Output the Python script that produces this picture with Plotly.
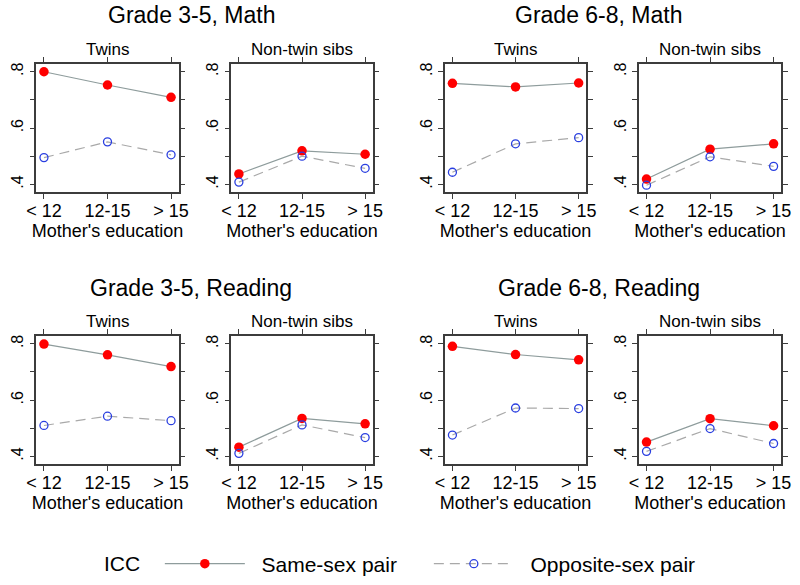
import plotly.graph_objects as go

# ---------------- data ----------------
edu = ["< 12", "12-15", "> 15"]
series_names = ["  Same-sex pair", "  Opposite-sex pair"]
group_titles = ["Grade 3-5, Math", "Grade 6-8, Math", "Grade 3-5, Reading", "Grade 6-8, Reading"]
panel_titles = ["Twins", "Non-twin sibs"]

math35_twins_same = [0.800, 0.753, 0.709]
math35_twins_opp = [0.495, 0.551, 0.505]
math35_sibs_same = [0.437, 0.519, 0.507]
math35_sibs_opp = [0.408, 0.500, 0.457]

math68_twins_same = [0.759, 0.746, 0.760]
math68_twins_opp = [0.443, 0.544, 0.566]
math68_sibs_same = [0.419, 0.525, 0.544]
math68_sibs_opp = [0.397, 0.498, 0.464]

read35_twins_same = [0.799, 0.761, 0.719]
read35_twins_opp = [0.510, 0.543, 0.527]
read35_sibs_same = [0.433, 0.535, 0.516]
read35_sibs_opp = [0.411, 0.512, 0.467]

read68_twins_same = [0.791, 0.762, 0.743]
read68_twins_opp = [0.476, 0.572, 0.570]
read68_sibs_same = [0.451, 0.534, 0.509]
read68_sibs_opp = [0.418, 0.499, 0.446]

y_tickvals = [0.4, 0.5, 0.6, 0.7, 0.8]
y_ticktext = [".4", "", ".6", "", ".8"]

# ---------------- layout geometry ----------------
W, H = 800, 585
FONT = "Arial, Liberation Sans, sans-serif"
panels = [
    (math35_twins_same, math35_twins_opp, 0, 0),
    (math35_sibs_same, math35_sibs_opp, 0, 1),
    (math68_twins_same, math68_twins_opp, 0, 2),
    (math68_sibs_same, math68_sibs_opp, 0, 3),
    (read35_twins_same, read35_twins_opp, 1, 0),
    (read35_sibs_same, read35_sibs_opp, 1, 1),
    (read68_twins_same, read68_twins_opp, 1, 2),
    (read68_sibs_same, read68_sibs_opp, 1, 3),
]
x_px = [(27, 173), (227, 372), (446, 591), (645, 791)]
y_px = [(63, 192), (336, 465)]

SAME_LINE = "#8e9c9c"
OPP_LINE = "#a9a9a9"
RED = "#ff0000"
BLUE = "#2a3fe0"
FRAME = "#3c3c3c"

fig = go.Figure()
layout = {}
annotations = []

for i, (same, opp, row, col) in enumerate(panels):
    k = i + 1
    xa = "x" if k == 1 else f"x{k}"
    ya = "y" if k == 1 else f"y{k}"
    fig.add_trace(go.Scatter(
        x=edu, y=same, xaxis=xa, yaxis=ya, mode="lines+markers",
        name=series_names[0], legendgroup="same", showlegend=(k == 1),
        line=dict(color=SAME_LINE, width=1.2),
        marker=dict(color=RED, size=9.5, line=dict(width=0)),
    ))
    fig.add_trace(go.Scatter(
        x=edu, y=opp, xaxis=xa, yaxis=ya, mode="lines+markers",
        name=series_names[1], legendgroup="opp", showlegend=(k == 1),
        line=dict(color=OPP_LINE, width=1.2, dash="10px,6px"),
        marker=dict(color=BLUE, size=8, symbol="circle-open",
                    line=dict(color=BLUE, width=1.3)),
    ))
    x0, x1 = x_px[col]
    yt, yb = y_px[row]
    xkey = "xaxis" if k == 1 else f"xaxis{k}"
    ykey = "yaxis" if k == 1 else f"yaxis{k}"
    layout[xkey] = dict(
        domain=[x0 / W, x1 / W], anchor=ya, type="category",
        range=[-0.12, 2.12], showgrid=False, zeroline=False,
        showline=True, mirror="all", linecolor=FRAME, linewidth=1.5,
        ticks="outside", ticklen=5, tickcolor=FRAME, tickwidth=1.2,
        ticklabelstandoff=-4,
        tickfont=dict(family=FONT, size=18, color="black"),
        title=dict(text="Mother's education", standoff=0,
                   font=dict(family=FONT, size=18, color="black")),
        fixedrange=True,
    )
    layout[ykey] = dict(
        domain=[1 - yb / H, 1 - yt / H], anchor=xa,
        range=[0.3717, 0.8283], showgrid=False, zeroline=False,
        showline=True, mirror="all", linecolor=FRAME, linewidth=1.5,
        ticks="outside", ticklen=5, tickcolor=FRAME, tickwidth=1.2,
        tickmode="array", tickvals=y_tickvals, ticktext=y_ticktext,
        tickangle=-90,
        tickfont=dict(family=FONT, size=16, color="black"),
        fixedrange=True,
    )
    annotations.append(dict(
        text=panel_titles[col % 2], xref="paper", yref="paper",
        x=(x0 + x1) / 2 / W, y=1 - (yt - 14) / H,
        xanchor="center", yanchor="middle", showarrow=False,
        font=dict(family=FONT, size=17, color="black"),
    ))

group_pos = [(186, 14), (604, 14), (186, 288), (604, 288)]
for t, (gx, gy) in zip(group_titles, group_pos):
    annotations.append(dict(
        text=t, xref="paper", yref="paper", x=gx / W, y=1 - gy / H,
        xanchor="center", yanchor="middle", showarrow=False,
        font=dict(family=FONT, size=23, color="black"),
    ))

fig.update_layout(
    width=W, height=H,
    margin=dict(l=0, r=0, t=0, b=0),
    paper_bgcolor="white", plot_bgcolor="white",
    font=dict(family=FONT, color="black"),
    annotations=annotations,
    showlegend=True,
    legend=dict(
        orientation="h", x=0.5, xanchor="center", y=1 - 565 / H, yanchor="middle",
        title=dict(text="ICC  ", side="left", font=dict(family=FONT, size=21)),
        font=dict(family=FONT, size=21, color="black"),
        itemwidth=80, entrywidth=174, bgcolor="rgba(0,0,0,0)",
    ),
    **layout,
)

fig.write_html(
    "out.html",
    config={"displayModeBar": False},
    post_script="document.body.style.margin='0';document.body.style.overflow='hidden';",
)
